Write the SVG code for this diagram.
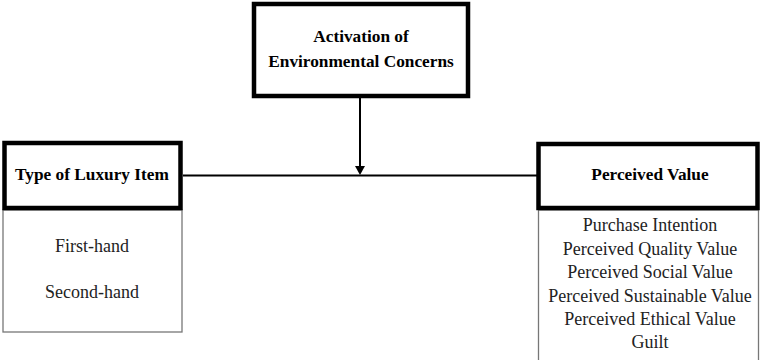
<svg xmlns="http://www.w3.org/2000/svg" width="761" height="360" viewBox="0 0 761 360">
<style>
.hdr{fill:#fff;stroke:#000;stroke-width:4.5}
.sub{fill:#fff;stroke:#777;stroke-width:1.3}
.b{font-family:'Liberation Serif','Times New Roman','DejaVu Serif',serif;font-weight:bold;font-size:17.3px;fill:#000;text-anchor:middle}
.r{font-family:'Liberation Serif','Times New Roman','DejaVu Serif',serif;font-size:18px;fill:#222;text-anchor:middle}
.c{stroke:#000;stroke-width:2;fill:none}
</style>
<g id="connectors">
<line class="c" x1="183" y1="175.5" x2="537" y2="175.5"/>
<line class="c" x1="360" y1="97" x2="360" y2="168"/>
<path d="M355,166 L365,166 L360,175 Z" fill="#000"/>
</g>
<g id="node-activation">
<rect class="hdr" x="254" y="4" width="214" height="92"/>
<text class="b" x="361" y="42">Activation of</text>
<text class="b" x="361" y="67">Environmental Concerns</text>
</g>
<g id="node-type">
<rect class="sub" x="3" y="210" width="179" height="122"/>
<rect class="hdr" x="4.5" y="143" width="176" height="65"/>
<text class="b" x="92" y="180">Type of Luxury Item</text>
<text class="r" x="92" y="252">First-hand</text>
<text class="r" x="92" y="298">Second-hand</text>
</g>
<g id="node-value">
<rect class="sub" x="538.5" y="210" width="220" height="160"/>
<rect class="hdr" x="538.5" y="144" width="219" height="64"/>
<text class="b" x="650" y="180">Perceived Value</text>
<text class="r" x="650" y="231">Purchase Intention</text>
<text class="r" x="650" y="255">Perceived Quality Value</text>
<text class="r" x="650" y="278">Perceived Social Value</text>
<text class="r" x="650" y="302">Perceived Sustainable Value</text>
<text class="r" x="650" y="325">Perceived Ethical Value</text>
<text class="r" x="650" y="348">Guilt</text>
</g>
</svg>
